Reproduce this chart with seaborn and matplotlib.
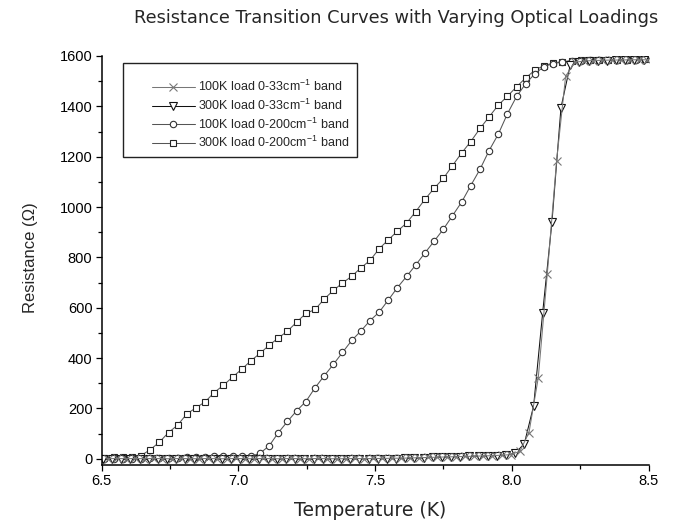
import numpy as np
import pandas as pd
import matplotlib
matplotlib.use("Agg")
import matplotlib.pyplot as plt
from matplotlib.patches import Rectangle
from matplotlib.ticker import MultipleLocator
import seaborn as sns

# ---------------- data ----------------
# shared temperature grid for the 0-200 cm^-1 band curves
T_wide = [6.510, 6.544, 6.577, 6.611, 6.644, 6.678, 6.711, 6.745, 6.778, 6.812,
          6.845, 6.879, 6.912, 6.946, 6.979, 7.013, 7.046, 7.080, 7.113, 7.147,
          7.180, 7.214, 7.247, 7.281, 7.314, 7.348, 7.381, 7.415, 7.448, 7.482,
          7.515, 7.549, 7.582, 7.616, 7.649, 7.683, 7.716, 7.750, 7.783, 7.817,
          7.850, 7.884, 7.917, 7.951, 7.984, 8.018, 8.051, 8.085, 8.118, 8.152,
          8.185, 8.219, 8.252, 8.286, 8.319, 8.353, 8.386, 8.420, 8.453, 8.487]

R_300K_200 = [3, 7, 7, 7, 12, 36, 65, 104, 133, 178,
              202, 226, 263, 292, 324, 356, 389, 419, 451, 480,
              507, 543, 577, 593, 634, 669, 698, 725, 758, 788,
              834, 870, 904, 937, 982, 1031, 1074, 1114, 1164, 1215,
              1260, 1312, 1358, 1405, 1440, 1478, 1513, 1544, 1562, 1572,
              1578, 1581, 1583, 1584, 1585, 1585, 1586, 1586, 1587, 1587]

R_100K_200 = [0, 0, 0, 0, 0, 1, 1, 2, 3, 5,
              7, 8, 9, 9, 9, 9, 9, 22, 51, 104,
              148, 191, 227, 282, 329, 375, 422, 470, 507, 549,
              582, 631, 680, 725, 770, 818, 864, 912, 965, 1020,
              1085, 1150, 1224, 1290, 1370, 1440, 1490, 1530, 1558, 1570,
              1576, 1580, 1582, 1583, 1584, 1585, 1585, 1586, 1586, 1587]

# temperature grid of the 300K load 0-33 cm^-1 curve
T_tri = [6.505, 6.539, 6.572, 6.606, 6.639, 6.673, 6.706, 6.740, 6.773, 6.807,
         6.840, 6.874, 6.907, 6.941, 6.974, 7.008, 7.041, 7.075, 7.108, 7.142,
         7.175, 7.209, 7.242, 7.276, 7.309, 7.343, 7.376, 7.410, 7.443, 7.477,
         7.510, 7.544, 7.577, 7.611, 7.644, 7.678, 7.711, 7.745, 7.778, 7.812,
         7.845, 7.879, 7.912, 7.946, 7.979, 8.013, 8.046, 8.080, 8.113, 8.147,
         8.180, 8.214, 8.247, 8.281, 8.314, 8.348, 8.381, 8.415, 8.448, 8.482]

R_300K_33 = [-2, -2, -3, -2, -2, -3, -2, -2, -1, -2,
             -2, -1, -2, -2, -2, -1, -2, -2, -2, -2,
             -1, -2, -2, -2, -2, -1, -1, -2, -1, -1,
             -1, 0, 0, 1, 2, 3, 5, 6, 7, 8,
             9, 10, 11, 12, 14, 22, 60, 210, 580, 940,
             1395, 1565, 1578, 1580, 1582, 1582, 1583, 1584, 1584, 1585]

# temperature grid of the 100K load 0-33 cm^-1 curve
T_x = [6.522, 6.556, 6.589, 6.623, 6.656, 6.690, 6.723, 6.757, 6.790, 6.824,
       6.857, 6.891, 6.924, 6.958, 6.991, 7.025, 7.058, 7.092, 7.125, 7.159,
       7.192, 7.226, 7.259, 7.293, 7.326, 7.360, 7.393, 7.427, 7.460, 7.494,
       7.527, 7.561, 7.594, 7.628, 7.661, 7.695, 7.728, 7.762, 7.795, 7.829,
       7.862, 7.896, 7.929, 7.963, 7.996, 8.030, 8.063, 8.097, 8.130, 8.164,
       8.197, 8.231, 8.264, 8.298, 8.331, 8.365, 8.398, 8.432, 8.465, 8.495]

R_100K_33 = [0, 1, 0, 1, 0, 1, 0, 0, 1, 0,
             0, 1, 0, 0, 1, 0, 0, 1, 0, 0,
             1, 0, 0, 1, 0, 0, 0, 1, 0, 1,
             1, 2, 2, 3, 4, 5, 6, 7, 8, 9,
             10, 11, 12, 14, 16, 30, 104, 322, 735, 1184,
             1520, 1575, 1580, 1582, 1583, 1584, 1584, 1585, 1585, 1585]

labels = ["100K load 0-33cm$^{-1}$ band",
          "300K load 0-33cm$^{-1}$ band",
          "100K load 0-200cm$^{-1}$ band",
          "300K load 0-200cm$^{-1}$ band"]

title = "Resistance Transition Curves with Varying Optical Loadings"
xlabel = "Temperature (K)"
ylabel = "Resistance (\u03a9)"
xticks = [6.5, 7.0, 7.5, 8.0, 8.5]
yticks = [0, 200, 400, 600, 800, 1000, 1200, 1400, 1600]

# ---------------- figure ----------------
sns.set_style("ticks")
plt.rcParams['font.family'] = ['Liberation Sans', 'DejaVu Sans']
plt.rcParams['mathtext.default'] = 'regular'

W, H = 683, 527
fig = plt.figure(figsize=(W / 100, H / 100), dpi=100)
ax_l, ax_r, ax_b, ax_t = 101.5, 648.5, 465.0, 56.0
ax = fig.add_axes([ax_l / W, 1 - ax_b / H, (ax_r - ax_l) / W, (ax_b - ax_t) / H])

styles = [
    (T_wide, R_300K_200, labels[3], 's', '#222222', '#555555', 4.8),
    (T_wide, R_100K_200, labels[2], 'o', '#333333', '#555555', 4.6),
    (T_tri, R_300K_33, labels[1], 'v', '#111111', '#111111', 6.2),
    (T_x, R_100K_33, labels[0], 'x', '#777777', '#777777', 5.5),
]
handles = {}
for x, y, lab, mk, mec, lc, ms in styles:
    df = pd.DataFrame({"T": x, "R": y})
    sns.lineplot(data=df, x="T", y="R", ax=ax, color=lc, marker=mk,
                 markersize=ms, markerfacecolor='white', markeredgecolor=mec,
                 markeredgewidth=0.8, linewidth=0.75, estimator=None,
                 sort=False, legend=False)
    line = ax.get_lines()[-1]
    line.set_label(lab)
    handles[lab] = line

ax.set_xlim(6.5, 8.5)
ax.set_ylim(-25, 1600)
ax.set_xticks(xticks)
ax.set_yticks(yticks)
ax.set_xticklabels([f"{v:.1f}" for v in xticks])
ax.xaxis.set_minor_locator(MultipleLocator(0.25))
ax.yaxis.set_minor_locator(MultipleLocator(100))
for s in ["top", "right"]:
    ax.spines[s].set_visible(False)
for s in ["left", "bottom"]:
    ax.spines[s].set_linewidth(1.1)
    ax.spines[s].set_color("black")
ax.tick_params(which='major', direction='out', length=4.5, width=0.9,
               color='black', labelsize=10.5, pad=2, labelcolor='black')
ax.tick_params(which='minor', direction='out', length=2.7, width=0.9,
               color='black')
ax.set_xlabel("")
ax.set_ylabel("")

# legend with a plain rectangular frame
leg = ax.legend([handles[l] for l in labels], labels, loc='upper left',
                bbox_to_anchor=((152 - ax_l) / (ax_r - ax_l),
                                (ax_b - 79) / (ax_b - ax_t)),
                frameon=False, borderpad=0, borderaxespad=0,
                fontsize=9, handlelength=3.4, handletextpad=0.3,
                labelspacing=0.28)
rect = Rectangle(((123 - ax_l) / (ax_r - ax_l), (ax_b - 157) / (ax_b - ax_t)),
                 (357 - 123) / (ax_r - ax_l), (157 - 63) / (ax_b - ax_t),
                 transform=ax.transAxes, fill=False, edgecolor='#222222',
                 linewidth=1.0, zorder=5)
ax.add_patch(rect)

fig.text(396 / W, 1 - 18 / H, title, ha='center', va='center',
         fontsize=12.8, family=['DejaVu Sans'])
fig.text(370 / W, 1 - 510 / H, xlabel, ha='center', va='center',
         fontsize=13.5, family=['DejaVu Sans'])
fig.text(30 / W, 1 - 258 / H, ylabel, ha='center', va='center',
         fontsize=12, rotation=90, family=['Liberation Sans', 'DejaVu Sans'])

fig.savefig("out.png", dpi=100)
